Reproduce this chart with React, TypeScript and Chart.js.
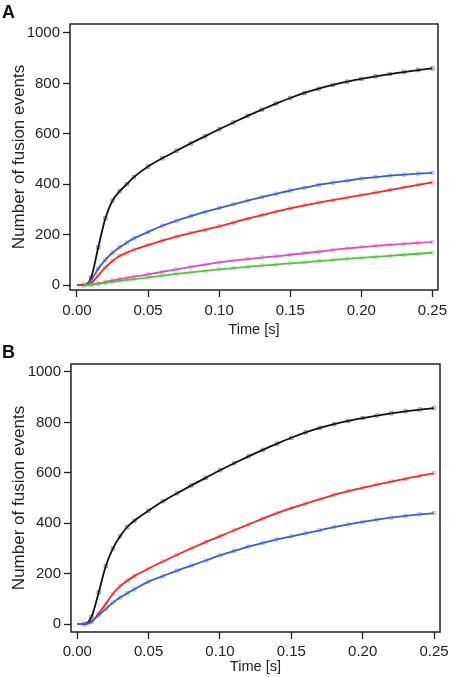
import React, { useEffect, useRef } from "react";
import { Chart, registerables } from "chart.js";
Chart.register(...registerables);
Chart.defaults.font.family = "'Liberation Sans', Arial, Helvetica, sans-serif";

const timeS = [0, 0.005, 0.01, 0.015, 0.02, 0.025, 0.03, 0.035, 0.04, 0.05, 0.06, 0.07, 0.08, 0.09, 0.1, 0.11, 0.12, 0.13, 0.14, 0.15, 0.16, 0.17, 0.18, 0.19, 0.2, 0.21, 0.22, 0.23, 0.24, 0.25];

const aBlack = [0, 0, 30, 150, 265, 335, 372, 400, 428, 470, 503, 533, 562, 590, 618, 645, 671, 696, 720, 742, 762, 779, 794, 807, 818, 828, 837, 845, 853, 860];
const aBlue = [0, 0, 20, 65, 100, 128, 150, 168, 185, 210, 235, 255, 273, 290, 305, 320, 335, 349, 362, 375, 386, 397, 406, 414, 422, 428, 434, 438, 442, 445];
const aRed = [0, 0, 8, 38, 70, 95, 115, 128, 140, 158, 176, 192, 206, 219, 233, 248, 263, 277, 291, 304, 316, 327, 337, 347, 357, 367, 377, 387, 397, 407];
const aMagenta = [null, 0, 2, 6, 12, 18, 23, 28, 33, 42, 52, 62, 72, 81, 90, 97, 103, 109, 114, 120, 126, 132, 139, 145, 150, 155, 159, 163, 167, 170];
const aGreen = [null, 0, 2, 5, 9, 13, 16, 20, 23, 30, 37, 44, 50, 56, 62, 67, 72, 77, 81, 86, 90, 95, 99, 104, 108, 112, 116, 120, 124, 128];

const bBlack = [0, 0, 28, 125, 230, 300, 348, 385, 410, 450, 487, 519, 550, 580, 610, 638, 665, 691, 716, 739, 760, 778, 793, 806, 817, 827, 836, 844, 851, 857];
const bRed = [0, 0, 8, 42, 80, 120, 150, 172, 190, 220, 248, 275, 300, 325, 348, 372, 395, 418, 440, 460, 478, 495, 512, 527, 540, 553, 565, 576, 588, 598];
const bBlue = [0, 0, 10, 35, 60, 85, 105, 122, 138, 168, 190, 212, 232, 252, 272, 290, 307, 322, 336, 348, 360, 372, 384, 395, 405, 414, 422, 429, 435, 440];

const xTicks = [0, 0.05, 0.1, 0.15, 0.2, 0.25];
const yTicks = [0, 200, 400, 600, 800, 1000];

const xTitle = "Time [s]";
const yTitle = "Number of fusion events";

const BLACK = { line: "#111111", marker: "#808080" };
const BLUE = { line: "#3d5fc4", marker: "#9aaee2" };
const RED = { line: "#f2282d", marker: "#f5a0a0" };
const MAGENTA = { line: "#d94fb8", marker: "#eaa6dc" };
const GREEN = { line: "#55bf45", marker: "#a6dc98" };

type Series = { values: (number | null)[]; color: { line: string; marker: string } };
type PanelCfg = {
  canvasH: number;
  area: { left: number; right: number; top: number; bottom: number };
  xMin: number; xMax: number; yMin: number; yMax: number;
  tickPad: number; titlePadBottom: number;
  series: Series[];
};

const panelA: PanelCfg = {
  canvasH: 340,
  area: { left: 70, right: 438, top: 24, bottom: 290 },
  xMin: -0.0049, xMax: 0.2539, yMin: -19.8, yMax: 1035.7,
  tickPad: 5, titlePadBottom: 1,
  series: [
    { values: aGreen, color: GREEN },
    { values: aMagenta, color: MAGENTA },
    { values: aRed, color: RED },
    { values: aBlue, color: BLUE },
    { values: aBlack, color: BLACK },
  ],
};

const panelB: PanelCfg = {
  canvasH: 337,
  area: { left: 71, right: 440, top: 24, bottom: 292 },
  xMin: -0.0044, xMax: 0.2542, yMin: -31.7, yMax: 1031.7,
  tickPad: 4, titlePadBottom: 1,
  series: [
    { values: bBlue, color: BLUE },
    { values: bRed, color: RED },
    { values: bBlack, color: BLACK },
  ],
};

const framePlugin = {
  id: "frame",
  afterDatasetsDraw(chart: any) {
    const { ctx, chartArea } = chart;
    ctx.save();
    ctx.strokeStyle = "#222";
    ctx.lineWidth = 1.5;
    ctx.strokeRect(chartArea.left, chartArea.top, chartArea.right - chartArea.left, chartArea.bottom - chartArea.top);
    ctx.restore();
  },
};

function buildChart(canvas: HTMLCanvasElement, cfg: PanelCfg) {
  const datasets: any[] = [];
  cfg.series.forEach((s) => {
    const pts: { x: number; y: number }[] = [];
    timeS.forEach((t, i) => {
      const v = s.values[i];
      if (v !== null && v !== undefined) pts.push({ x: t, y: v });
    });
    datasets.push({
      type: "line",
      data: pts,
      borderColor: s.color.line,
      borderWidth: 1.8,
      pointRadius: 0,
      cubicInterpolationMode: "monotone",
      fill: false,
      order: 1,
    });
    datasets.push({
      type: "scatter",
      data: pts.filter((p) => p.x > 0.004),
      pointStyle: "rect",
      pointRadius: 2.4,
      borderColor: s.color.marker,
      backgroundColor: "rgba(0,0,0,0)",
      pointBorderWidth: 0.8,
      showLine: false,
      order: 2,
    });
  });

  return new Chart(canvas, {
    type: "line",
    data: { datasets },
    plugins: [framePlugin],
    options: {
      animation: false,
      responsive: false,
      maintainAspectRatio: false,
      layout: { padding: { left: 0, top: cfg.area.top, right: 450 - cfg.area.right, bottom: 0 } },
      plugins: { legend: { display: false }, tooltip: { enabled: false } },
      scales: {
        x: {
          type: "linear",
          min: cfg.xMin,
          max: cfg.xMax,
          afterBuildTicks: (s: any) => {
            s.ticks = xTicks.map((v) => ({ value: v }));
          },
          afterFit: (s: any) => {
            s.height = cfg.canvasH - cfg.area.bottom;
            s.paddingLeft = 0;
            s.paddingRight = 0;
          },
          ticks: {
            callback: (v: any) => Number(v).toFixed(2),
            font: { size: 15 },
            color: "#222",
            padding: cfg.tickPad,
            maxRotation: 0,
            autoSkip: false,
          },
          grid: { drawOnChartArea: false, drawTicks: true, tickLength: 7, tickColor: "#222", tickWidth: 1.3 },
          border: { display: false },
          title: { display: true, text: xTitle, font: { size: 14.6 }, color: "#222", padding: { top: 0, bottom: cfg.titlePadBottom } },
        },
        y: {
          type: "linear",
          min: cfg.yMin,
          max: cfg.yMax,
          afterBuildTicks: (s: any) => {
            s.ticks = yTicks.map((v) => ({ value: v }));
          },
          afterFit: (s: any) => {
            s.width = cfg.area.left;
            s.paddingTop = 0;
            s.paddingBottom = 0;
          },
          ticks: {
            callback: (v: any) => String(v),
            font: { size: 15 },
            color: "#222",
            padding: 3,
            autoSkip: false,
          },
          grid: { drawOnChartArea: false, drawTicks: true, tickLength: 7, tickColor: "#222", tickWidth: 1.3 },
          border: { display: false },
          title: { display: true, text: yTitle, font: { size: 17 }, color: "#222", padding: { top: 9, bottom: 0 } },
        },
      },
    } as any,
  });
}

function Panel({ cfg, top, letter }: { cfg: PanelCfg; top: number; letter: string }) {
  const ref = useRef<HTMLCanvasElement | null>(null);
  useEffect(() => {
    if (!ref.current) return;
    const chart = buildChart(ref.current, cfg);
    return () => chart.destroy();
  }, [cfg]);
  return (
    <div style={{ position: "absolute", left: 0, top, width: 450, height: cfg.canvasH }}>
      <canvas ref={ref} width={450} height={cfg.canvasH} style={{ display: "block", width: 450, height: cfg.canvasH }} />
      <div
        style={{
          position: "absolute",
          left: 2,
          top: 3,
          fontFamily: "'Liberation Sans', Arial, sans-serif",
          fontWeight: "bold",
          fontSize: 18,
          lineHeight: "18px",
          color: "#111",
        }}
      >
        {letter}
      </div>
    </div>
  );
}

export default function App() {
  return (
    <div style={{ position: "absolute", left: 0, top: 0, width: 450, height: 677, background: "#fff", overflow: "hidden" }}>
      <Panel cfg={panelA} top={0} letter="A" />
      <Panel cfg={panelB} top={340} letter="B" />
    </div>
  );
}
